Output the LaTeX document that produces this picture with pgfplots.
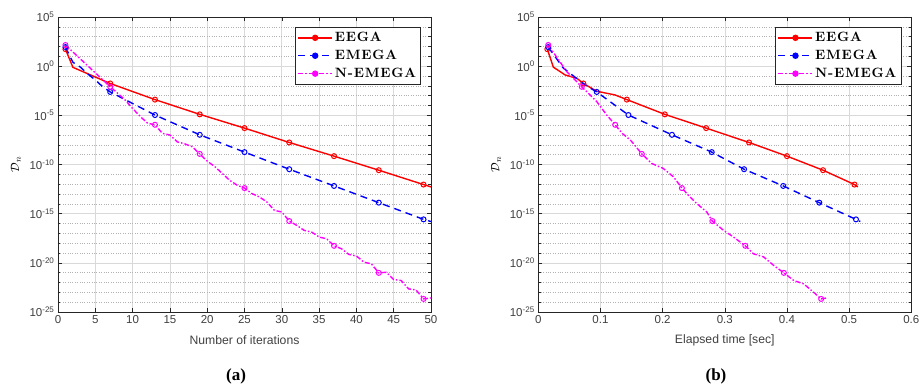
\documentclass[border=0pt]{standalone}
\usepackage{fontspec}
\usepackage{pgfplots}
\pgfplotsset{compat=1.18}
\newfontfamily\arialf{Liberation Sans}
\newfontfamily\timesf{Liberation Serif}
\newfontfamily\lmrb{lmroman10-bold}[Extension=.otf, LetterSpace=6]
\definecolor{mred}{RGB}{255,0,0}
\definecolor{mblue}{RGB}{0,0,255}
\definecolor{mmag}{RGB}{255,0,255}

\pgfplotsset{
  myax/.style={
    scale only axis, width=373pt, height=295pt,
    ymin=-25, ymax=5,
    ytick={-25,-20,-15,-10,-5,0,5},
    yticklabels={10\textsuperscript{-25},10\textsuperscript{-20},10\textsuperscript{-15},10\textsuperscript{-10},10\textsuperscript{-5},10\textsuperscript{0},10\textsuperscript{5}},
    minor ytick={-24,-23,-22,-21,-19,-18,-17,-16,-14,-13,-12,-11,-9,-8,-7,-6,-4,-3,-2,-1,1,2,3,4},
    grid=both,
    major grid style={black!15, line width=0.6pt},
    minor grid style={black!30, dotted, line width=0.5pt},
    axis line style={black!85, line width=0.7pt},
    major tick length=4pt, minor tick length=2.5pt,
    every tick/.style={black!85, line width=0.5pt},
    tick label style={font=\arialf\fontsize{11.5}{13}\selectfont, text=black!75},
    /pgf/number format/assume math mode=true,
    xlabel style={font=\arialf\fontsize{12.2}{14}\selectfont, text=black!75, at={(axis description cs:0.5,-0.095)}, anchor=center},
    ylabel style={font=\fontsize{13}{15}\selectfont, at={(axis description cs:-0.113,0.5)}, anchor=center},
    ylabel={$\mathcal{D}_n$},
    legend style={at={(1,1)}, anchor=north east, xshift=-10pt, yshift=-10pt,
      font=\lmrb\fontsize{13.5}{15}\selectfont, draw=black!85, line width=0.7pt,
      inner xsep=2.5pt, inner ysep=5pt, row sep=7pt,
      nodes={inner xsep=2pt, inner ysep=0pt}},
    legend cell align=left,
    legend image code/.code={
      \draw[##1, mark=none] (0pt,0pt) -- (34pt,0pt);
      \draw[##1, mark=*, mark options={solid}] plot coordinates {(17pt,0pt)};
    },
  },
  eega/.style={color=mred, solid, line width=1.4pt, mark=o, mark size=2.5pt, mark options={solid, line width=1pt}},
  emega/.style={color=mblue, dash pattern=on 7pt off 5pt, line width=1.4pt, mark=o, mark size=2.5pt, mark options={solid, line width=1pt}},
  nemega/.style={color=mmag, dash pattern=on 5pt off 2pt on 1.5pt off 2pt, line width=1.4pt, mark=o, mark size=2.5pt, mark options={solid, line width=1pt}},
}

\pgfplotstableread{
n y
1 1.73
2 -0.12
7 -1.76
13 -3.40
19 -4.90
25 -6.30
31 -7.76
37 -9.15
43 -10.58
49 -12.04
50 -12.28
}\leega

\pgfplotstableread{
n y
1 1.94
2 0.40
3 -0.10
4 -0.80
5 -1.40
6 -2.10
7 -2.62
13 -4.97
19 -6.98
25 -8.74
31 -10.48
37 -12.18
43 -13.88
49 -15.58
50 -15.80
}\lemega

\pgfplotstableread{
n y
1 2.15
7 -2.10
8 -2.75
9 -3.44
10 -4.30
11 -5.10
12 -5.80
13 -5.96
14 -6.84
15 -7.00
16 -7.70
17 -7.90
18 -8.20
19 -8.92
20 -9.66
21 -10.20
22 -10.90
23 -11.60
24 -12.10
25 -12.40
26 -12.96
27 -13.30
28 -13.81
29 -14.66
30 -14.83
31 -15.75
32 -16.19
33 -16.70
34 -16.87
35 -17.38
36 -17.55
37 -18.27
38 -18.57
39 -19.15
40 -19.30
41 -19.93
42 -20.10
43 -21.02
44 -20.96
45 -21.70
46 -21.80
47 -22.65
48 -22.76
49 -23.67
50 -23.57
}\lnemega

\pgfplotstableread{
t y
0.0145 1.73
0.0242 -0.10
0.043 -0.89
0.062 -1.23
0.0725 -1.76
0.094 -2.55
0.1236 -2.93
0.1424 -3.40
0.2035 -4.90
0.270 -6.30
0.339 -7.76
0.400 -9.15
0.458 -10.58
0.5086 -12.04
0.514 -12.28
}\reega

\pgfplotstableread{
t y
0.016 1.94
0.0403 -0.20
0.075 -1.90
0.094 -2.62
0.145 -4.97
0.215 -6.98
0.279 -8.74
0.331 -10.48
0.394 -12.18
0.452 -13.88
0.511 -15.58
0.518 -15.80
}\remega

\pgfplotstableread{
t y
0.016 2.15
0.0457 -0.55
0.0699 -2.10
0.094 -3.60
0.110 -4.97
0.1236 -5.96
0.135 -6.84
0.148 -7.50
0.1665 -8.92
0.1826 -9.90
0.201 -10.40
0.2175 -11.26
0.231 -12.40
0.244 -13.30
0.255 -13.98
0.271 -14.83
0.280 -15.75
0.298 -16.70
0.314 -17.38
0.333 -18.27
0.346 -19.08
0.3625 -19.40
0.379 -20.28
0.395 -21.02
0.411 -21.80
0.427 -22.14
0.443 -23.00
0.455 -23.67
0.4645 -23.57
}\rnemega

\begin{document}
\begin{tikzpicture}
\path[use as bounding box] (0pt,0pt) rectangle (919pt,385pt);

\begin{axis}[myax, at={(58pt,73pt)}, anchor=south west,
  xmin=0, xmax=50, xtick={0,5,...,50},
  xlabel={Number of iterations}]
\addplot[eega, mark indices={1,3,4,5,6,7,8,9,10}] table[x=n,y=y] {\leega};
\addlegendentry{EEGA}
\addplot[emega, mark indices={1,7,8,9,10,11,12,13,14}] table[x=n,y=y] {\lemega};
\addlegendentry{EMEGA}
\addplot[nemega, mark indices={1,2,8,14,20,26,32,38,44}] table[x=n,y=y] {\lnemega};
\addlegendentry{N-EMEGA}
\end{axis}

\begin{axis}[myax, at={(538.3pt,73pt)}, anchor=south west,
  xmin=0, xmax=0.6, xtick={0,0.1,...,0.6},
  xticklabels={0,0.1,0.2,0.3,0.4,0.5,0.6},
  xlabel={Elapsed time [sec]}]
\addplot[eega, mark indices={1,5,8,9,10,11,12,13,14}] table[x=t,y=y] {\reega};
\addlegendentry{EEGA}
\addplot[emega, mark indices={1,4,5,6,7,8,9,10,11}] table[x=t,y=y] {\remega};
\addlegendentry{EMEGA}
\addplot[nemega, mark indices={1,3,6,9,13,17,20,24,28}] table[x=t,y=y] {\rnemega};
\addlegendentry{N-EMEGA}
\end{axis}

\node[font=\timesf\bfseries\fontsize{17}{19}\selectfont] at (236pt,9pt) {(a)};
\node[font=\timesf\bfseries\fontsize{17}{19}\selectfont] at (716pt,9pt) {(b)};
\end{tikzpicture}
\end{document}
